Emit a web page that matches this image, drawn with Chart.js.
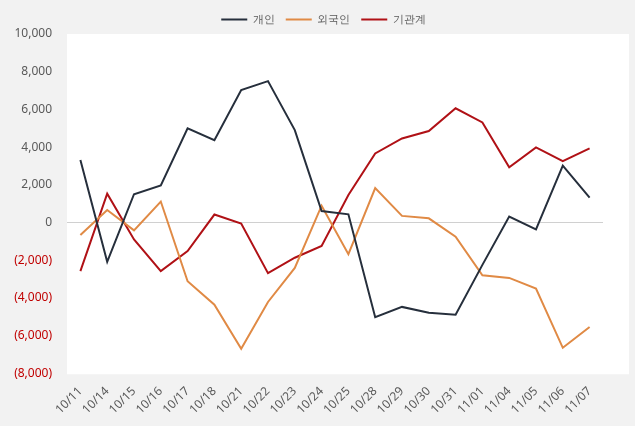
<!DOCTYPE html>
<html lang="ko">
<head>
<meta charset="UTF-8">
<title>투자자별 순매수</title>
<script src="https://cdn.jsdelivr.net/npm/chart.js"></script>
<style>
    html, body { margin: 0; padding: 0; background: #f2f2f2; }
    #wrap { width: 635px; height: 426px; }
</style>
</head>
<body>
<div id="wrap"><canvas id="chart" width="635" height="426"></canvas></div>
<script>
    const dates = ['10/11','10/14','10/15','10/16','10/17','10/18','10/21','10/22','10/23','10/24',
                   '10/25','10/28','10/29','10/30','10/31','11/01','11/04','11/05','11/06','11/07'];
    const individual = [3310, -2090, 1500, 1960, 5000, 4370, 7030, 7500, 4900, 610,
                        430, -5030, -4480, -4790, -4890, -2250, 310, -370, 3020, 1320];
    const foreign = [-670, 660, -420, 1110, -3120, -4360, -6700, -4220, -2410, 890,
                     -1680, 1820, 350, 220, -760, -2800, -2940, -3510, -6650, -5550];
    const institution = [-2580, 1530, -900, -2580, -1520, 420, -60, -2690, -1870, -1250,
                         1460, 3660, 4460, 4850, 6060, 5310, 2930, 3980, 3250, 3930];

    // white plot area, a bit wider on the right like the original
    const plotBg = {
        id: 'plotBg',
        beforeDraw(chart) {
            const a = chart.chartArea, ctx = chart.ctx;
            ctx.save();
            ctx.fillStyle = '#ffffff';
            ctx.fillRect(a.left, a.top, a.right - a.left + 26, a.bottom - a.top + 1);
            ctx.restore();
        }
    };

    function fmt(v) {
        const s = Math.abs(v).toLocaleString('en-US');
        return v < 0 ? '(' + s + ')' : s;
    }

    new Chart(document.getElementById('chart'), {
        type: 'line',
        data: {
            labels: dates,
            datasets: [
                { label: '개인', data: individual, borderColor: '#262f3c', backgroundColor: '#262f3c' },
                { label: '외국인', data: foreign, borderColor: '#e08a45', backgroundColor: '#e08a45' },
                { label: '기관계', data: institution, borderColor: '#b01116', backgroundColor: '#b01116' }
            ]
        },
        options: {
            responsive: false,
            animation: false,
            layout: { padding: { left: 12, right: 0, top: 3, bottom: 6 } },
            elements: {
                line: { borderWidth: 2, tension: 0 },
                point: { radius: 0 }
            },
            plugins: {
                legend: {
                    position: 'top',
                    maxHeight: 31,
                    labels: {
                        boxWidth: 26, boxHeight: 0,
                        padding: 11,
                        color: '#595959', font: { family: 'Noto Sans', size: 11 }
                    }
                },
                tooltip: { enabled: false }
            },
            scales: {
                x: {
                    offset: true,
                    grid: { display: false },
                    border: { display: false },
                    afterFit: s => { s.paddingLeft = 0; s.paddingRight = 32; },
                    ticks: {
                        color: '#595959', maxRotation: 45, minRotation: 45, autoSkip: false,
                        font: { family: 'Noto Sans', size: 12 }
                    }
                },
                y: {
                    min: -8000, max: 10000,
                    border: { display: false },
                    afterFit: s => { s.width = 55; },
                    grid: {
                        drawTicks: false,
                        color: ctx => ctx.tick && ctx.tick.value === 0 ? '#d0d0d0' : 'rgba(0,0,0,0)'
                    },
                    ticks: {
                        stepSize: 2000, padding: 15,
                        font: { family: 'Noto Sans', size: 12 },
                        color: ctx => ctx.tick.value < 0 ? '#c00000' : '#595959',
                        callback: v => fmt(v)
                    }
                }
            }
        },
        plugins: [plotBg]
    });
</script>
</body>
</html>
